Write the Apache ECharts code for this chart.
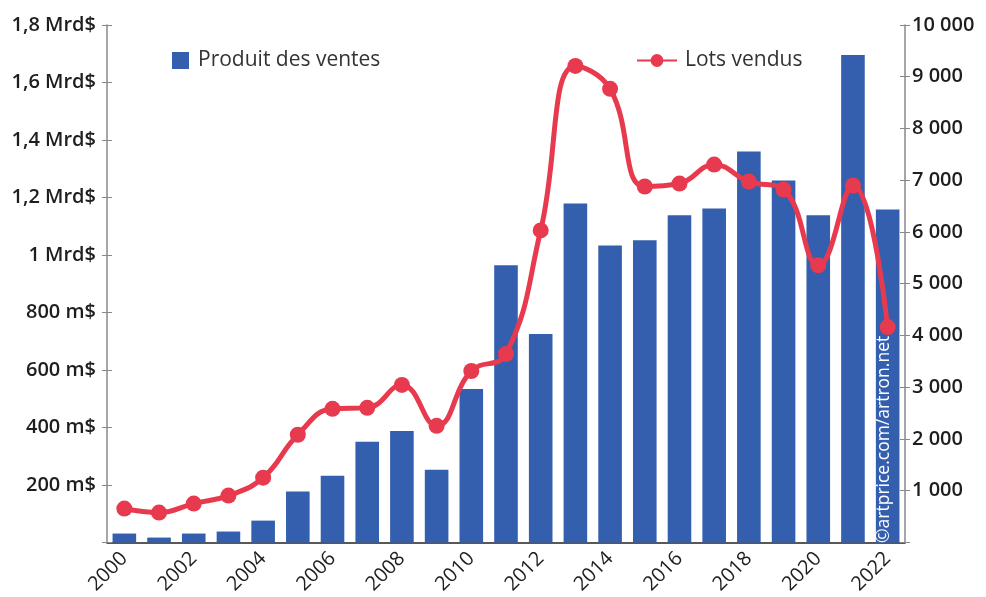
<!DOCTYPE html>
<html>
<head>
<meta charset="utf-8">
<script src="https://cdn.jsdelivr.net/npm/echarts@6/dist/echarts.min.js"></script>
<style>
  html, body { margin: 0; padding: 0; background: #fff; }
  #chart { width: 986px; height: 597px; }
</style>
</head>
<body>
<div id="chart"></div>
<script>
const years = ["2000", "2001", "2002", "2003", "2004", "2005", "2006", "2007", "2008", "2009", "2010", "2011",
    "2012", "2013", "2014", "2015", "2016", "2017", "2018", "2019", "2020", "2021", "2022"];
// produit des ventes, en millions de $
const turnover = [31, 17, 31, 38, 76, 177, 232, 350, 388, 253, 534, 964,
    725, 1179, 1033, 1051, 1138, 1162, 1360, 1259, 1138, 1696, 1158];
// lots vendus
const lotsSold = [655, 578, 751, 906, 1252, 2081, 2582, 2601, 3044, 2254, 3314, 3642,
    6031, 9210, 8767, 6879, 6936, 7303, 6975, 6821, 5356, 6898, 4162];

const font = "'Open Sans', 'Noto Sans', sans-serif";
const textColor = "#1e1e1e";

function moneyLabel(v) {
    if (v === 0) return "";
    if (v >= 1000) return String(v / 1000).replace(".", ",") + " Mrd$";
    return v + " m$";
}

function lotsLabel(v) {
    if (v === 0) return "";
    return String(v).replace(/\B(?=(\d{3})+(?!\d))/g, " ");
}

const chart = echarts.init(document.getElementById("chart"));
chart.setOption({
    animation: false,
    textStyle: { fontFamily: font },
    grid: { left: 107, right: 81, top: 25, bottom: 53 },
    legend: [
        {
            data: [{ name: "Produit des ventes", icon: "rect" }],
            left: 167, top: 45,
            itemWidth: 17, itemHeight: 17,
            textStyle: { fontSize: 21, color: "#333", fontFamily: font, padding: [0, 0, 0, 4] }
        },
        {
            data: ["Lots vendus"],
            left: 631, top: 45,
            itemWidth: 40, itemHeight: 16,
            textStyle: { fontSize: 21, color: "#333", fontFamily: font, padding: [0, 0, 0, 3] }
        }
    ],
    xAxis: [
        {
            type: "category",
            data: years,
            axisLine: { lineStyle: { color: "#222", width: 1.5 } },
            axisTick: { length: 5, lineStyle: { color: "#222", width: 1.5 } },
            axisLabel: {
                interval: 1,
                rotate: 45,
                fontSize: 20,
                color: textColor,
                margin: 13
            }
        },
        {
            type: "category",
            data: years,
            position: "bottom",
            axisLine: { show: false },
            axisTick: { inside: true, length: 5, lineStyle: { color: "#222", width: 1.5 } },
            axisLabel: { show: false }
        }
    ],
    yAxis: [
        {
            type: "value",
            min: 0, max: 1800, interval: 200,
            axisLine: { show: true, lineStyle: { color: "#888", width: 1.5 } },
            axisTick: { show: true, length: 5, lineStyle: { color: "#888" } },
            splitLine: { show: false },
            axisLabel: {
                formatter: moneyLabel,
                fontSize: 20, fontWeight: 600, color: textColor, margin: 11
            }
        },
        {
            type: "value",
            min: 0, max: 10000, interval: 1000,
            position: "right",
            axisLine: { show: true, lineStyle: { color: "#888", width: 1.5 } },
            axisTick: { show: true, length: 5, lineStyle: { color: "#888" } },
            splitLine: { show: false },
            axisLabel: {
                formatter: lotsLabel,
                fontSize: 20, fontWeight: 600, color: textColor, margin: 7
            }
        },
        {
            type: "value",
            min: 0, max: 1800, interval: 200,
            position: "left",
            axisLine: { show: false },
            axisTick: { show: true, inside: true, length: 5, lineStyle: { color: "#888" } },
            splitLine: { show: false },
            axisLabel: { show: false }
        },
        {
            type: "value",
            min: 0, max: 10000, interval: 1000,
            position: "right",
            axisLine: { show: false },
            axisTick: { show: true, inside: true, length: 5, lineStyle: { color: "#888" } },
            splitLine: { show: false },
            axisLabel: { show: false }
        }
    ],
    series: [
        {
            name: "Produit des ventes",
            type: "bar",
            data: turnover,
            yAxisIndex: 0,
            barWidth: "68%",
            itemStyle: { color: "#335fae" }
        },
        {
            name: "Lots vendus",
            type: "line",
            data: lotsSold,
            yAxisIndex: 1,
            smooth: 0.45,
            symbol: "circle",
            symbolSize: 16,
            lineStyle: { color: "#e83a4e", width: 5 },
            itemStyle: { color: "#e83a4e" }
        }
    ],
    graphic: [
        {
            type: "text",
            x: 884, y: 543,
            z: 100,
            rotation: Math.PI / 2,
            style: {
                text: "©artprice.com/artron.net",
                fill: "#fff",
                font: "17.5px " + font,
                align: "left",
                verticalAlign: "middle"
            }
        }
    ]
});
</script>
</body>
</html>
